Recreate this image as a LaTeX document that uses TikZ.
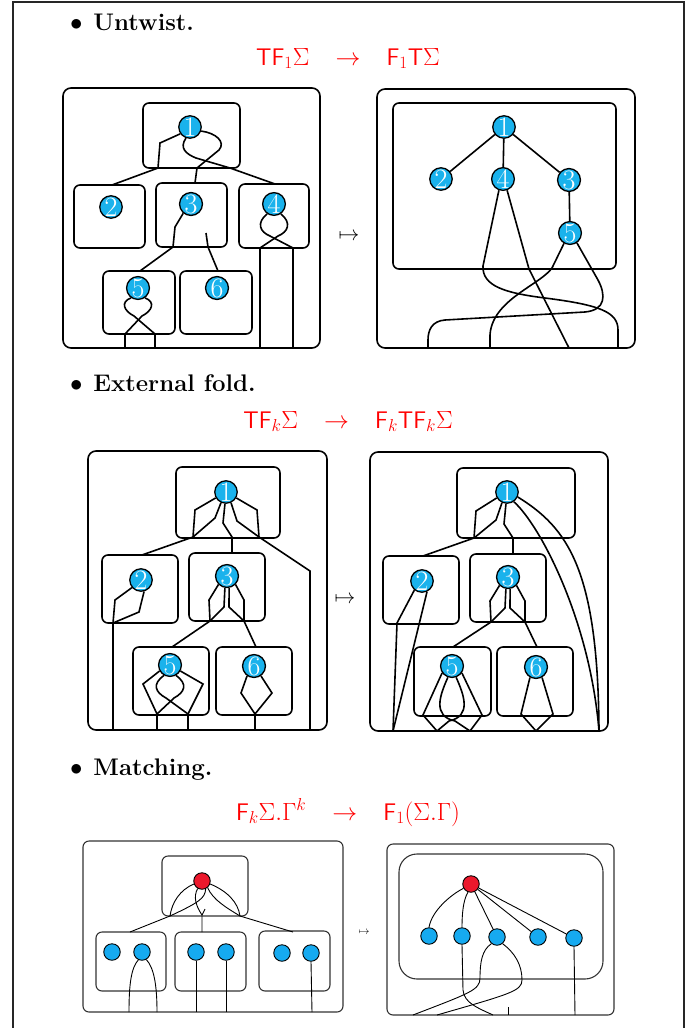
\documentclass[tikz,border=0pt]{standalone}
\usepackage{amsmath,amssymb}
\usepackage{fontspec}
\usepackage{xcolor}
\usepackage{tikz}
\usetikzlibrary{positioning,calc}
\definecolor{nblue}{RGB}{26,178,236}
\definecolor{mblue}{RGB}{22,170,240}
\definecolor{nred}{RGB}{236,24,44}

\begin{document}
\begin{tikzpicture}[x=1pt,y=-1pt,
  every node/.style={font=\fontsize{20}{24}\selectfont,inner sep=0pt},
  heading/.style={anchor=base west,font=\fontsize{24}{28}\selectfont\bfseries},
  formula/.style={anchor=base,text=red,font=\fontsize{24}{28}\selectfont},
  pageline/.style={line width=1.2pt,black!85},
  frame/.style={draw,line width=1.6pt,rounded corners=8pt},
  box/.style={draw,line width=1.6pt,rounded corners=6pt},
  wire/.style={line width=1.6pt},
  dot/.style={circle,draw,line width=1.3pt,fill=nblue,minimum size=22pt,text=white,font=\fontsize{28}{28}\selectfont},
  mframe/.style={draw,line width=1.1pt,black!80,rounded corners=6pt},
  mbox/.style={draw,line width=1.1pt,black!80,rounded corners=6pt},
  mwire/.style={line width=0.9pt},
  mdot/.style={circle,draw,line width=0.9pt,fill=mblue,minimum size=16.5pt},
  rdot/.style={mdot,fill=nred}]
\useasboundingbox (0,0) rectangle (694,1028);
\draw[pageline] (13,1028) -- (13,2) -- (684,2) -- (684,1028);

% headings
\node[heading] (h1) at (70,30) {$\bullet$\hspace{0.45em}Untwist.};
\node[formula] (eq1) at (348,65) {$\mathsf{TF}_1\Sigma\hspace{0.8em}\rightarrow\hspace{0.8em}\mathsf{F}_1\mathsf{T}\Sigma$};
\node[heading] (h2) at (70,391) {$\bullet$\hspace{0.45em}External fold.};
\node[formula] (eq2) at (348,428) {$\mathsf{TF}_k\Sigma\hspace{0.8em}\rightarrow\hspace{0.8em}\mathsf{F}_k\mathsf{TF}_k\Sigma$};
\node[heading] (h3) at (70,775) {$\bullet$\hspace{0.45em}Matching.};
\node[formula] (eq3) at (348,820) {$\mathsf{F}_k\Sigma.\Gamma^k\hspace{0.8em}\rightarrow\hspace{0.8em}\mathsf{F}_1(\Sigma.\Gamma)$};

% untwist, before
\draw[frame] (63,88) rectangle (320,348);
\draw[box] (143,103) rectangle (240,168);
\draw[box] (74,185) rectangle (145,248);
\draw[box] (156,183) rectangle (227,247);
\draw[box] (239,184) rectangle (309,248);
\draw[box] (103,271) rectangle (175,334);
\draw[box] (180,271) rectangle (252,334);
\node[dot] (u1) at (190,127) {1};
\node[dot] (u2) at (111,207) {2};
\node[dot] (u3) at (191,204) {3};
\node[dot] (u4) at (274,204) {4};
\node[dot] (u5) at (138,288) {5};
\node[dot] (u6) at (217,288) {6};
\coordinate (uS) at (206,233);
\draw[wire] (u1.-145) -- (160,143) -- (158,168) -- (112,185);
\draw[wire] (u1.-20) .. controls (216,133) and (226,142) .. (219,150) -- (197,168) -- (195,183);
\draw[wire] (u1.-110) .. controls (179,148) and (186,154) .. (196,158) -- (230,168) -- (275,184);
\draw[wire] (u3.-130) -- (175,227) -- (173,247) -- (140,271);
\draw[wire] (uS) -- (208,247) -- (218,271);
\draw[wire] (u4.-125) .. controls (256,223) and (260,232) .. (270,236) -- (293,248) -- (293,348);
\draw[wire] (u4.-55) .. controls (292,223) and (288,232) .. (278,236) -- (260,248) -- (260,348);
\draw[wire] (u5.-125) .. controls (120,302) and (124,311) .. (134,316) -- (155,334) -- (155,348);
\draw[wire] (u5.-55) .. controls (156,302) and (152,311) .. (142,316) -- (125,334) -- (125,348);
\node (mp1) at (349,237) {$\mapsto$};

% untwist, after
\draw[frame] (377,89) rectangle (635,348);
\draw[box] (393,103) rectangle (616,269);
\node[dot] (v1) at (504,127) {1};
\node[dot] (v2) at (441,179) {2};
\node[dot] (v4) at (503,179) {4};
\node[dot] (v3) at (569,180) {3};
\node[dot] (v5) at (570,233) {5};
\draw[wire] (v1) -- (v2);
\draw[wire] (v1) -- (v4);
\draw[wire] (v1) -- (v3);
\draw[wire] (v3) -- (v5);
\draw[wire] (v4.-110) -- (483,266) .. controls (482,286) and (505,293) .. (545,298) .. controls (600,305) and (618,312) .. (618,330) -- (618,348);
\draw[wire] (v4.-70) -- (529,269) -- (569,348);
\draw[wire] (v5.-120) -- (552,268) .. controls (540,285) and (492,300) .. (490,335) -- (490,348);
\draw[wire] (v5.-55) -- (598,280) .. controls (606,295) and (606,310) .. (585,312) -- (445,320) .. controls (432,321) and (428,330) .. (428,340) -- (428,348);

% external fold, before
\draw[frame] (88,451) rectangle (327,730);
\draw[box] (176,467) rectangle (280,538);
\draw[box] (102,555) rectangle (178,623);
\draw[box] (189,553) rectangle (265,621);
\draw[box] (133,647) rectangle (209,715);
\draw[box] (216,647) rectangle (292,715);
\node[dot] (f1) at (226,492) {1};
\node[dot] (f2) at (141,580) {2};
\node[dot] (f3) at (227,576) {3};
\node[dot] (f5) at (170,665) {5};
\node[dot] (f6) at (254,666) {6};
\coordinate (fL) at (193,537);
\coordinate (fM) at (232,537);
\coordinate (fR) at (259,537);
\draw[wire] (f1.-150) -- (195,510) -- (fL) -- (142,555);
\draw[wire] (f1.-115) -- (215,518) -- (fL);
\draw[wire] (f1.-95) -- (223,523) -- (fM) -- (232,553);
\draw[wire] (f1.-65) -- (237,521) -- (fR);
\draw[wire] (f1.-30) -- (257,510) -- (fR) -- (310,571) -- (310,730);
\coordinate (fB) at (113,623);
\draw[wire] (f2.-140) -- (115,600) -- (fB) -- (113,730);
\draw[wire] (f2.-75) -- (139,612) -- (fB);
\coordinate (fC) at (210,621);
\coordinate (fD) at (244,621);
\draw[wire] (f3.-135) -- (209,600) -- (fC) -- (172,647);
\draw[wire] (f3.-100) -- (224,607) -- (fC);
\draw[wire] (f3.-80) -- (229,607) -- (fD);
\draw[wire] (f3.-45) -- (244,600) -- (fD) -- (256,647);
\coordinate (fE) at (157,714);
\coordinate (fF) at (188,714);
\draw[wire] (f5.-150) -- (143,684) -- (fE) -- (157,730);
\draw[wire] (f5.-30) -- (203,684) -- (fF) -- (188,730);
\draw[wire] (f5.-120) .. controls (152,684) and (155,692) .. (166,698) -- (fF);
\draw[wire] (f5.-60) .. controls (188,684) and (185,692) .. (174,698) -- (fE);
\coordinate (fG) at (255,714);
\draw[wire] (f6.-125) -- (241,693) -- (fG) -- (255,730);
\draw[wire] (f6.-55) -- (272,693) -- (fG);
\node (mp2) at (345,600) {$\mapsto$};

% external fold, after
\draw[frame] (370,452) rectangle (608,731);
\draw[box] (457,468) rectangle (575,538);
\draw[box] (383,556) rectangle (459,624);
\draw[box] (470,554) rectangle (546,622);
\draw[box] (414,647) rectangle (491,716);
\draw[box] (497,647) rectangle (573,716);
\node[dot] (g1) at (507,492) {1};
\node[dot] (g2) at (422,581) {2};
\node[dot] (g3) at (508,577) {3};
\node[dot] (g5) at (452,666) {5};
\node[dot] (g6) at (536,667) {6};
\coordinate (gL) at (474,538);
\coordinate (gM) at (513,538);
\coordinate (gK) at (599,731);
\draw[wire] (g1.-150) -- (476,511) -- (gL) -- (423,556);
\draw[wire] (g1.-115) -- (496,520) -- (gL);
\draw[wire] (g1.-95) -- (504,524) -- (gM) -- (513,554);
\draw[wire] (g1.-55) .. controls (540,525) and (590,620) .. (gK);
\draw[wire] (g1.-25) .. controls (568,528) and (598,570) .. (gK);
\coordinate (gB) at (393,731);
\draw[wire] (g2.-130) -- (397,623) -- (gB);
\draw[wire] (g2.-65) -- (gB);
\coordinate (gC) at (491,622);
\coordinate (gD) at (525,622);
\draw[wire] (g3.-135) -- (490,601) -- (gC) -- (453,647);
\draw[wire] (g3.-100) -- (505,608) -- (gC);
\draw[wire] (g3.-80) -- (510,608) -- (gD);
\draw[wire] (g3.-45) -- (525,601) -- (gD) -- (537,647);
\coordinate (gE) at (437,731);
\coordinate (gF) at (470,731);
\draw[wire] (g5.-145) -- (423,715) -- (gE);
\draw[wire] (g5.-35) -- (482,715) -- (gF);
\draw[wire] (g5.-110) .. controls (440,695) and (432,716) .. (455,721) -- (gF);
\draw[wire] (g5.-70) .. controls (464,695) and (472,716) .. (449,721) -- (gE);
\coordinate (gG) at (536,731);
\draw[wire] (g6.-120) -- (521,714) -- (gG);
\draw[wire] (g6.-60) -- (553,714) -- (gG);

% matching, before
\draw[mframe] (83,841) rectangle (343,1012);
\draw[mbox] (162,856) rectangle (248,916);
\draw[mbox] (96,932) rectangle (166,991);
\draw[mbox] (175,932) rectangle (246,991);
\draw[mbox] (259,931) rectangle (330,991);
\node[rdot] (r1) at (202,881) {};
\node[mdot] (p1) at (112,952) {};
\node[mdot] (p2) at (142,952) {};
\node[mdot] (p3) at (196,952) {};
\node[mdot] (p4) at (226,952) {};
\node[mdot] (p5) at (282,953) {};
\node[mdot] (p6) at (311,953) {};
\coordinate (mL) at (170,916);
\coordinate (mM) at (202,915);
\coordinate (mR) at (240,916);
\coordinate (mT) at (205,909);
\draw[mwire] (r1.-160) .. controls (180,890) and (172,902) .. (mL) -- (130,932);
\draw[mwire] (r1.-120) .. controls (193,897) and (196,906) .. (mM) -- (202,932);
\draw[mwire] (mT) -- (mM);
\draw[mwire] (r1.-65) .. controls (205,898) and (200,902) .. (mL);
\draw[mwire] (r1.-50) .. controls (213,900) and (227,908) .. (mR);
\draw[mwire] (r1.-20) .. controls (227,891) and (238,902) .. (mR) -- (293,932);
\draw[mwire] (p2.-115) .. controls (131,968) and (129,985) .. (129,1012);
\draw[mwire] (p2.-60) .. controls (154,968) and (157,985) .. (157,1012);
\draw[mwire] (p3.south) -- (196,1012);
\draw[mwire] (p4.south) -- (226,1012);
\draw[mwire] (p6.south) -- (312,1012);
\node[font=\fontsize{11}{11}\selectfont] (mp3) at (364,932) {$\mapsto$};

% matching, after
\draw[mframe] (387,844) rectangle (614,1015);
\draw[mbox,rounded corners=18pt] (399,854) rectangle (603,979);
\node[rdot] (q0) at (471,884) {};
\node[mdot] (q1) at (429,936) {};
\node[mdot] (q2) at (462,936) {};
\node[mdot] (q3) at (497,937) {};
\node[mdot] (q4) at (538,937) {};
\node[mdot] (q5) at (574,938) {};
\draw[mwire] (q0.-150) .. controls (452,894) and (432,910) .. (q1.north);
\draw[mwire] (q0.-110) .. controls (463,900) and (462,915) .. (q2.north);
\draw[mwire] (q0) -- (q3);
\draw[mwire] (q0) -- (q4);
\draw[mwire] (q0) -- (q5);
\coordinate (qS) at (508,1007);
\draw[mwire] (q2.south) -- (463,990) .. controls (464,1003) and (478,1008) .. (493,1015);
\draw[mwire] (q3.-130) .. controls (482,950) and (480,962) .. (480,978) .. controls (480,990) and (470,993) .. (413,1015);
\draw[mwire] (q3.-50) .. controls (515,953) and (522,965) .. (522,980) .. controls (522,991) and (510,994) .. (437,1015);
\draw[mwire] (qS) -- (508,1015);
\draw[mwire] (q5.south) -- (575,1015);
\end{tikzpicture}
\end{document}
